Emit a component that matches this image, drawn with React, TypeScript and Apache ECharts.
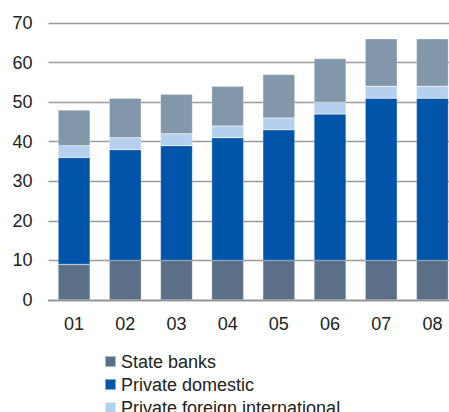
import React, { useEffect, useRef } from "react";
import * as echarts from "echarts";

const categories = ["01", "02", "03", "04", "05", "06", "07", "08"];
const stateBanks = [9, 10, 10, 10, 10, 10, 10, 10];
const privateDomestic = [27, 28, 29, 31, 33, 37, 41, 41];
const privateForeign = [3, 3, 3, 3, 3, 3, 3, 3];
const other = [9, 10, 10, 10, 11, 11, 12, 12];
const seriesNames = ["State banks", "Private domestic", "Private foreign international", "Other"];
const colors = ["#5b7086", "#0055a8", "#b4d0ee", "#8297aa"];

export default function App() {
  const ref = useRef<HTMLDivElement>(null);
  useEffect(() => {
    if (!ref.current) return;
    const chart = echarts.init(ref.current, null, { renderer: "svg" });
    const font = "Liberation Sans, Arial, sans-serif";
    const datas = [stateBanks, privateDomestic, privateForeign, other];
    chart.setOption({
      animation: false,
      textStyle: { fontFamily: font },
      grid: { left: 48.5, top: 23, right: -9, bottom: 112, containLabel: false, outerBoundsMode: "none" },
      legend: {
        orient: "vertical",
        left: 99,
        top: 347.5,
        height: 130,
        itemWidth: 11,
        itemHeight: 11,
        itemGap: 5,
        icon: "rect",
        textStyle: { fontSize: 18, color: "#222", fontFamily: font },
        data: seriesNames,
      },
      xAxis: {
        type: "category",
        data: categories,
        axisTick: { show: false },
        axisLine: { lineStyle: { color: "#8c8c8c", width: 1.3 } },
        axisLabel: { fontSize: 18, color: "#222", margin: 15, fontFamily: font },
      },
      yAxis: {
        type: "value",
        min: 0,
        max: 70,
        interval: 10,
        axisLine: { show: false },
        axisTick: { show: false },
        splitLine: { lineStyle: { color: "#9a9a9a", width: 1.3 } },
        axisLabel: { fontSize: 18, color: "#222", margin: 16, fontFamily: font },
      },
      series: datas.map((d, i) => ({
        type: "bar",
        name: seriesNames[i],
        stack: "total",
        data: d,
        barWidth: 32,
        itemStyle: { color: colors[i], borderColor: "rgba(255,255,255,0.5)", borderWidth: 0.5 },
      })),
    });
    return () => chart.dispose();
  }, []);
  return <div ref={ref} style={{ width: 449, height: 412, position: "absolute", left: 0, top: 0 }} />;
}
